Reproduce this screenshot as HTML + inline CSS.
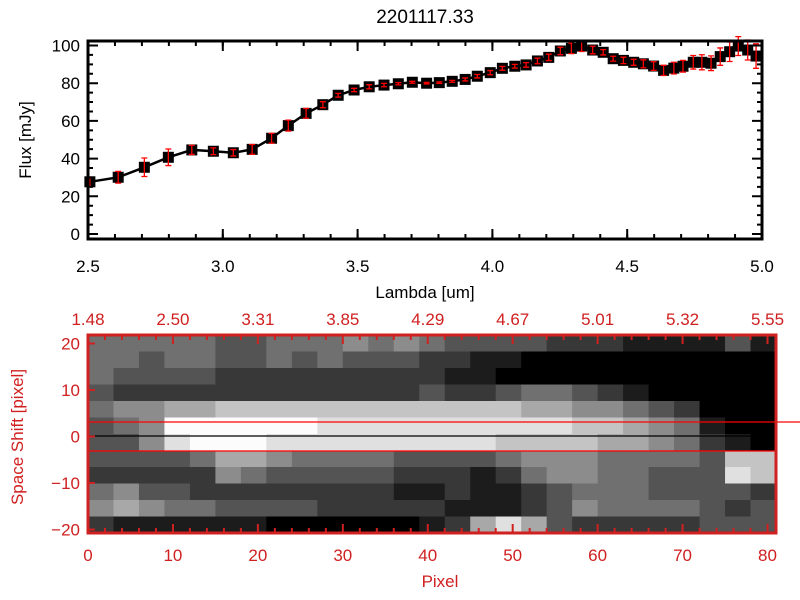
<!DOCTYPE html>
<html><head><meta charset="utf-8">
<style>
html,body{margin:0;padding:0;background:#fff;}
svg{display:block;font-family:"Liberation Sans","DejaVu Sans",sans-serif;}
</style></head>
<body>
<svg id="chart" width="800" height="600" viewBox="0 0 800 600" xmlns="http://www.w3.org/2000/svg">
<rect width="800" height="600" fill="#fff"/>
<text x="425" y="23" font-size="19" text-anchor="middle" fill="#000">2201117.33</text>
<g id="top"></g>
<g id="bottom"></g>
</svg>
<script>
const lambda=[2.507,2.612,2.709,2.798,2.885,2.965,3.039,3.109,3.181,3.243,3.309,3.371,3.428,3.487,3.543,3.598,3.651,3.703,3.756,3.803,3.851,3.899,3.944,3.992,4.037,4.083,4.125,4.167,4.209,4.252,4.293,4.331,4.372,4.411,4.448,4.486,4.524,4.560,4.598,4.635,4.673,4.707,4.745,4.777,4.811,4.845,4.880,4.912,4.947,4.978];
const flux=[27.7,30.1,35.4,40.7,44.6,43.9,43.1,44.9,50.8,57.5,64,68.6,73.6,76.4,78.1,79,79.7,80.5,80,80.3,81,82,83.7,85.6,87.9,89,89.7,91.8,93.7,97.1,98.5,99.7,97.6,96.4,93,92.1,91.1,90.3,89.1,86.8,88,89,91.1,91.1,90.6,94.1,96.7,99.7,97.6,94.4];
const fluxErr=[2.5,3.1,4.9,4.4,2.4,1.8,1.7,2.6,2.6,2.9,2.6,1.6,1,0.9,1.1,0.9,0.6,0.5,0.4,0.4,0.5,0.8,0.9,1.1,1,1,1.2,1.5,1.7,2,2.8,2.9,2,1.4,1.3,1.7,1.6,2.1,2.3,2.7,3.1,3.1,3.6,4,3.9,4.6,5.2,5,5.3,6.5];
const xTicks=["2.5","3.0","3.5","4.0","4.5","5.0"];
const xTickVals=[2.5,3.0,3.5,4.0,4.5,5.0];
const yTicks=["0","20","40","60","80","100"];
const yTickVals=[0,20,40,60,80,100];
const topAxisLabels=["1.48","2.50","3.31","3.85","4.29","4.67","5.01","5.32","5.55"];
const pixelTicks=[0,10,20,30,40,50,60,70,80];
const shiftTicks=[-20,-10,0,10,20];
const image=[
"444443344454543333222111131",
"443443343433322110000000000",
"433332222222221100000000000",
"322222222222232234432100000",
"455667777777777776655432000",
"345999999888888888877654100",
"335899988888888877776654210",
"333346654444333345554444377",
"222225433333222124554433387",
"453322222222112112344433332",
"565443333222221112354444323",
"211111100000012686322222333"];
const NS="http://www.w3.org/2000/svg";
function mk(parent,tag,attrs,name,txt){const e=document.createElementNS(NS,tag);for(const k in attrs)e.setAttribute(k,attrs[k]);


if(txt!==undefined)e.textContent=txt;parent.appendChild(e);return e;}
const T=document.getElementById('top');
const L=88,R=762,Tp=41,B=239;
const xs=v=>L+(v-2.5)/2.5*(R-L);
const ys=v=>234-v*1.885;
let d="";lambda.forEach((l,i)=>{d+=(i?"L":"M")+xs(l).toFixed(1)+" "+ys(flux[i]).toFixed(1);});
mk(T,'path',{d:d,fill:'none',stroke:'#000','stroke-width':2.5},'flux-line');
lambda.forEach((l,i)=>{const x=xs(l),y=ys(flux[i]);
mk(T,'rect',{x:x-5.5,y:y-5.5,width:11,height:11,fill:'#000'},'flux-point');
const y1=ys(flux[i]+fluxErr[i]),y2=ys(flux[i]-fluxErr[i]);
mk(T,'path',{d:`M${x} ${y1}V${y2}M${x-3} ${y1}H${x+3}M${x-3} ${y2}H${x+3}`,stroke:'#f00','stroke-width':1.3,fill:'none'},'error-bar');});
mk(T,'rect',{x:L,y:Tp,width:R-L,height:B-Tp,fill:'none',stroke:'#000','stroke-width':3},'top-plot-frame');
xTickVals.forEach((v,i)=>{const x=xs(v);
mk(T,'path',{d:`M${x} ${B}v-10M${x} ${Tp}v10`,stroke:'#000','stroke-width':2},'x-tick');
mk(T,'text',{x:x,y:272,'font-size':17,'text-anchor':'middle',fill:'#000'},'x-tick-label',xTicks[i]);});
for(let v=2.6;v<5.0;v+=0.1){const x=xs(v);mk(T,'path',{d:`M${x} ${B}v-5M${x} ${Tp}v5`,stroke:'#000','stroke-width':2},'x-minor-tick');}
yTickVals.forEach((v,i)=>{const y=ys(v);
mk(T,'path',{d:`M${L} ${y}h10M${R} ${y}h-10`,stroke:'#000','stroke-width':2},'y-tick');
mk(T,'text',{x:80,y:y+6,'font-size':17,'text-anchor':'end',fill:'#000'},'y-tick-label',yTicks[i]);});
for(let v=0;v<=100;v+=5){if(v%20){const y=ys(v);mk(T,'path',{d:`M${L} ${y}h5M${R} ${y}h-5`,stroke:'#000','stroke-width':2},'y-minor-tick');}}
mk(T,'text',{x:425,y:298,'font-size':17,'text-anchor':'middle',fill:'#000'},'x-axis-title','Lambda [um]');
mk(T,'text',{x:0,y:0,'font-size':17,'text-anchor':'middle',fill:'#000',transform:'translate(31,140) rotate(-90)'},'y-axis-title','Flux [mJy]');
const G=document.getElementById('bottom');
const bL=88,bR=776,bT=335,bB=533;
const px=v=>bL+v/81*(bR-bL);
const sy=v=>436.5-v*4.65;
const rows=image.length,cols=image[0].length;
const cw=(bR-bL)/cols,ch=(bB-bT)/rows;
image.forEach((row,r)=>{for(let c=0;c<cols;c++){const g=Math.min(255,+row[c]*28);
mk(G,'rect',{x:(bL+c*cw).toFixed(2),y:(bT+r*ch).toFixed(2),width:(cw+0.6).toFixed(2),height:(ch+0.6).toFixed(2),fill:`rgb(${g},${g},${g})`},'heatmap-cell');}});
mk(G,'line',{x1:bL,x2:800,y1:422,y2:422,stroke:'#f00','stroke-width':1.3},'upper-aperture-line');
mk(G,'line',{x1:bL,x2:bR,y1:451,y2:451,stroke:'#f00','stroke-width':1.3},'lower-aperture-line');
mk(G,'line',{x1:bL,x2:bR,y1:436,y2:436,stroke:'#000','stroke-width':1.3},'center-line');
mk(G,'rect',{x:bL,y:bT,width:bR-bL,height:bB-bT,fill:'none',stroke:'#d02020','stroke-width':3},'bottom-plot-frame');
pixelTicks.forEach((v,i)=>{const x=px(v);
mk(G,'path',{d:`M${x} ${bB}v-9M${x} ${bT}v9`,stroke:'#d02020','stroke-width':2},'pixel-tick');
mk(G,'text',{x:x,y:561,'font-size':17,'text-anchor':'middle',fill:'#d02020'},'pixel-tick-label',String(v));
mk(G,'text',{x:x,y:325,'font-size':17,'text-anchor':'middle',fill:'#d02020'},'lambda-top-label',topAxisLabels[i]);});
for(let v=2;v<81;v+=2){if(v%10){const x=px(v);mk(G,'path',{d:`M${x} ${bB}v-5M${x} ${bT}v5`,stroke:'#d02020','stroke-width':2},'pixel-minor-tick');}}
shiftTicks.forEach(v=>{const y=sy(v);
mk(G,'path',{d:`M${bL} ${y}h7`,stroke:'#d02020','stroke-width':2},'shift-tick');
mk(G,'text',{x:80,y:y+6,'font-size':17,'text-anchor':'end',fill:'#d02020'},'shift-tick-label',String(v).replace('-','\u2212'));});
mk(G,'text',{x:440,y:587,'font-size':17,'text-anchor':'middle',fill:'#d02020'},'pixel-axis-title','Pixel');
mk(G,'text',{x:0,y:0,'font-size':17,'text-anchor':'middle',fill:'#d02020',transform:'translate(23,437) rotate(-90)'},'space-shift-axis-title','Space Shift [pixel]');
</script>
</body></html>
